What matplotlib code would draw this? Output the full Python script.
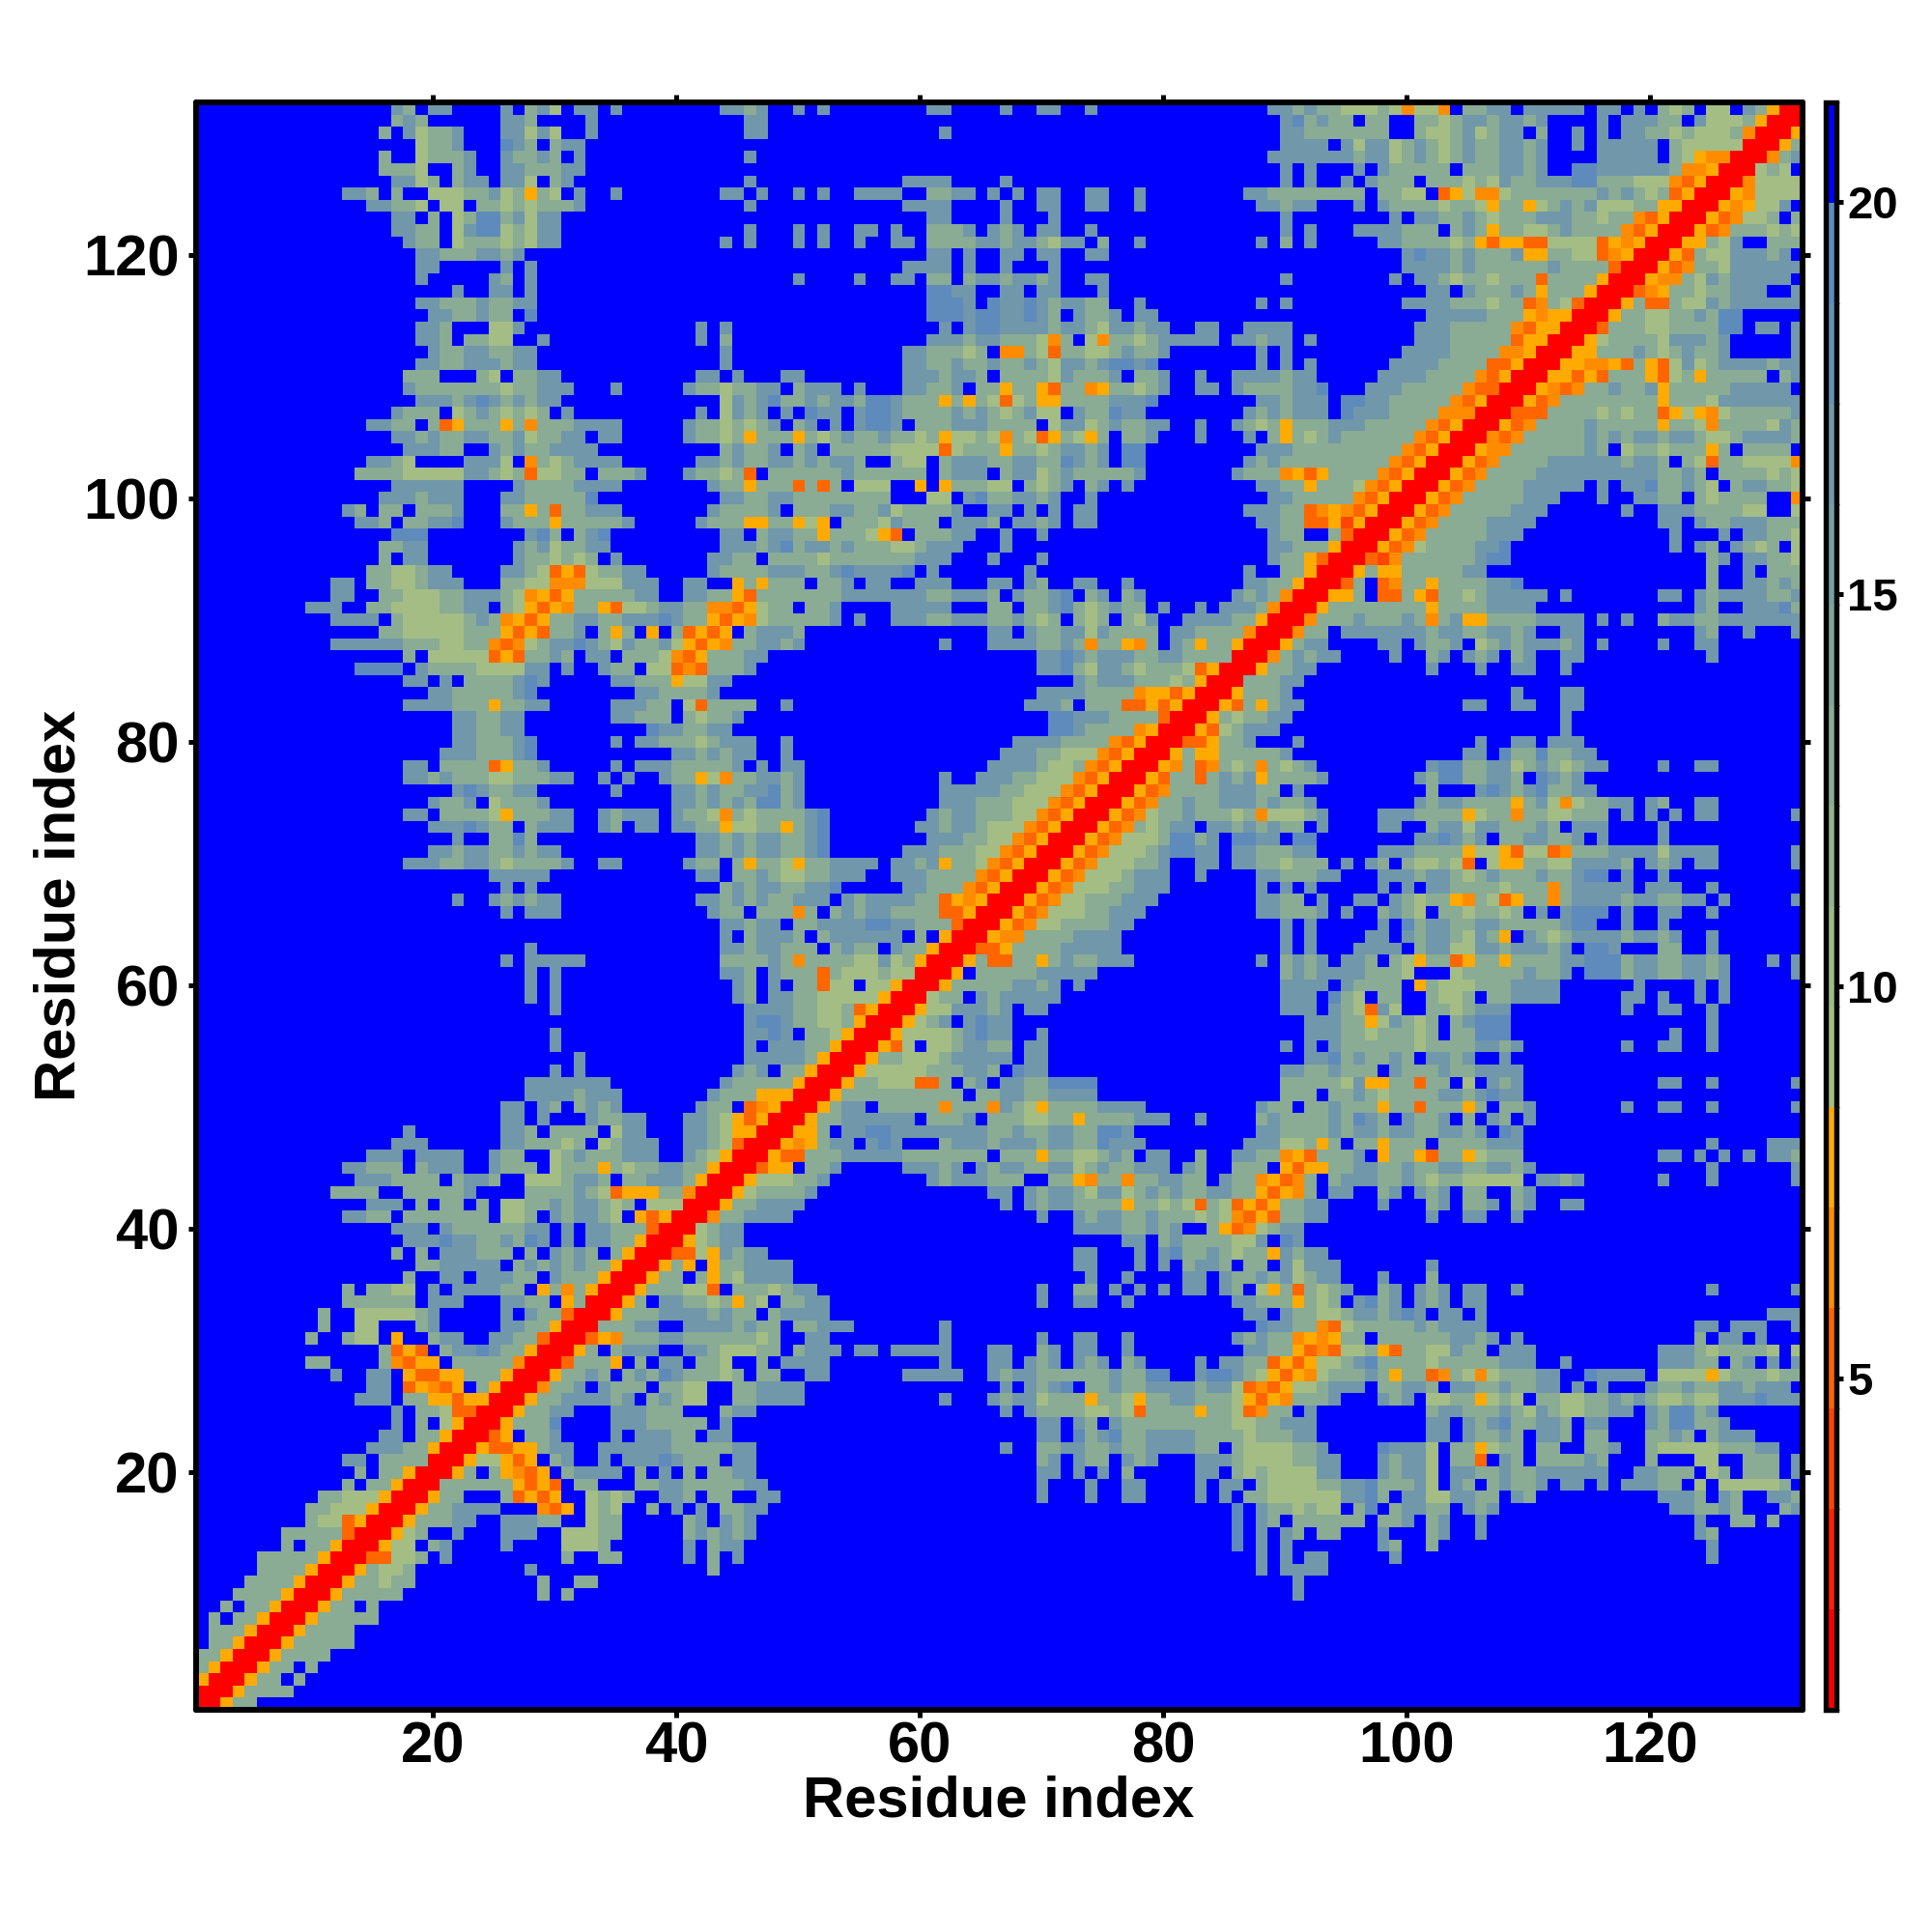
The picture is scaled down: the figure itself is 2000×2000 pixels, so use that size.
import re
import numpy as np
import matplotlib
matplotlib.use("Agg")
import matplotlib.pyplot as plt
from matplotlib.colors import ListedColormap, BoundaryNorm

plt.rcParams['font.family'] = ['Liberation Sans', 'DejaVu Sans']

# Distance bands, run-length coded: letter + repeat count.
# r,s,t,u,v = warm bands; a,c,e,g = green to steel-blue bands; . = beyond the cutoff (blue).
# Each list has one entry per row, from the highest residue index down; rows are the part at or left of the diagonal.
top_left = [
".16ec.e2.4e.cea.e2.e.8e",".16cec.6e2c.4e",".15c.eac2e.3e2aea.2e",".18ac2e.3gec.ce2",".15c.2ac3e.2ec2ec.e",
".15c3a.2ce.2e2c3e2",".16e2ac.ce2.e2a.ce",".12e2c.c.2a3c2eacvca.e.2e.8e",".14e2c2a.a2.c2acac3e",".16e2.c.acg2ceae2",
".16e2c2.aeg2acae2",".17ec2.ac3acae2.13e",".18e2c3e2ce",".18e2.5e.e",".18e.5ec.e",
".21e.2e2.e",".18e2c3ec2e2",".19e2c2ec2.g",".18e2c.3a2e.14e.e",".18e2c.c2a2.2e.12e.c",
".19ec2e2c2e2.15e",".18e2c2e3ce2.15e",".17c3.3ca.c2e2.11e2",".17ec7ac2e3.3e.5ec2a",".18e3cegecece2.13a",
".16ec3.acecacac.e.10e.a",".14e2c2.ctvc3vcuc3e4.5ec2a",".16e2cec2e2c2eac2e2.e2.5ec2a",".17e3c2.2ecec2e4.10c",".14e2ca.4e3a.ucace4.6e2c",
".13c4a5e2cacta2c2.c3e.3ec2a",".16e6.4ec4e4.7ec",".15e3ce3.3e2c5g.10e",".12ec.c2.c3e.3c2vctc2e3.7ec",".13e2c.c2e2g.3ec3vc5e.5ec2",
".16g3.8egc.ceg.9e",".15c2e2.7eceac2e2.9e",".15c.e2.7ec2acac.e.7e2",".14c2a2ce2.4e2catvtac2e2.5ec",".11e2.c2a2ce3.3c2a2u3a3e3.2e2",
".11e2.2c2a3c2e3cauvtvc5e2.2e2c2",".9e3.2c2a4c2e2.cavtvuc2vta2ce2c2u2",".11e4.ca5cecuvtvc2e2c2e3gec2vt",".15c2a5c3vtvtc2e.cvc.v.ctvtv",
]
top_mid = [
"ece.2e.e.8e2.4e.2e2.2e",".e2",".e2.14e","",".e",
"",".e.12e4.4e","e.e.2e.e.2e4.2c2e2.e.e.e2.2e2.2e.8e2",".e.12e4.4e.2e2.2e2.2e.9e",".16e2.4e.3e",
".e.3e.e.2e2.e.2c3e.ece.e2.2e",".e.3e.e.2e.2e2.c4e2ce2cae2.c.2e.9e",".16e2.e.2e2.e2.2e2",".14e4.e.2e.3e",".5e.4e.2e2.c2.ce2ce2ce.2e2",
".16g2e2.2e2.e2.3e",".16g3e.ge2gece2c2.2e.9e",".16g3eg2e2gec.ec2e.e2",".17e.eg2e4ce2cae2ce2.2e2.2e2",".16e3ce2c3auc.auc2ace5.e2c",
".14e2c3ac.u2catc2a2cec2e.7e",".14e2c2ec2ec2ecae2ceg2eg.8e","e.3e2.8e3ce2c.c4aec3e.c2e.2e.2e3","c2e2.ce3.e.3e2c2e.c2vc2vtc2uvc2ace.2e2.ec2","ecegc2ece2cg2ec3vcvcatacv2c4e3g.8e",
"ece.e.ge2.eg2ec4ececaceaa.ec2ge2.8ec","cace.ce.e.eg2e.c3e3c4.ae2acec2e2.2e.2eca","cvc3vcacec2ec2acva2caucatvcavc.c2e.3e.3e.","ec2e.ce.c5a4tac3vc2ace2ce.g2.9e","ec2e2cece2c.2ca2.ce3c2e2c2gece.g2.8ec",
"ct.c6ec6.ce3.ce2acec5e.7ec2","cvc3tctc.a3.2v.vc3a2.cace.ce.e.10e","ec2e2c8.3a2.egc2e2ce.2e","c3e.c3e2c2eac4e.2e2.e.e.e2.12e2","cv2c2vav.c3aec3.e3c.e2ce.e2.13e",
"e.ce2c2vc3avt.c3e2.2e.2e","e2cegce2cec3a2ce3.3e","c2.c4ac7e3.3e.3e","c3e3c2ege4g.e.7e.17e","vcvc3.c2e.e2.2e3.3e2.ec.2e2.2e.9e2",
"vtc7e7c2e3c.ec2eg.ce.ce.7ece","tvac2.c2e.4e5.3c2.c2egcacec2.e.2e.e3c","vuac5e.e.2e3c2e3c2ecac.cac.cae.2e4c2v",".ce3c.15e2.ec2e2aec4.e2c4ur",
]
top_right = [
"e2cec2a3caua2u.c2e2.e5.e2.e.cac.a2.ecvr2",".egcec2.c2.2c2ace2ce2ce.4e.e3c2.ea3cvr3",".e2c7.2ca2ceace2.c.2e.e.e2c2aca3cur3v",".e4.eae2acecacec2e2ce.2e.e5.ca5r3vc","e7ce2acecacec2e2ce.4e5.cavu2r3uac",
".e.e.3e.ec5.c3e2ce.2g2e6cu2vr3c3.",".e.e.2e.ec3.c3acaec2e3g2c3a3utvr3uc4","c8.c2a2.tvau2ac7ececactvr3vuc4","ece2.3e.ec4ac2avc2vacecea3c2v2r3vuvc3.",".e.8e.e2c2ecac3e3c2ac2utvr3vtuc3.e",
".e.e.3e4c3.cecvc2a2cec4utvr3vtuc6",".c.e.5e2c4acvtv2t2a4tvuvr3",".11ege2cec3ev2c2a2tuvr3",".11e4cec6ec4tr3",".e.8e.e2cac2ac3tc4vr3",
".13e2.ec3ecvc3vr3",".e.9e4c3ac2tucatr3",".13e5c3vuv2r3","e2.10e3c5utv2r3","e2.e.8e3c5tv2r3",
".e.9e4c4u2vr3",".e.e.6e4c4t2vr3","ece2.5e4c4utvr3","c2e2g.3e3c5ut2r3","ece3.g2e2c5utvr3",
"ece3.ge3c4u3r3","cvc3e3c5utvr3","cvcacec6utvr3","e2c9utvr3","ec9utvr3",
"cuvtvc4utvr3","ec2vc3autvr3","e2c5utvr3","ec2tuvutvr3","ec2t2vsvr3",
"ec2.2ctr3","e2c3vr3","ec2vtr3",".c2vr3","c2vr3",
"cur3","ur3","r3","r3",
]
mid_left = [
".11e6c3a2c2utuace2gecaec2eavtvu",".17c.a5tvtc2ec.e2.c3autvc2",".13g4.ec4a4e2.e.2ec2.a2tutc2",".17e2.e.c4ege.5e2c3va2e2",".19e2c5eg.8e2c4e.",
".17e4c3vc2e2.5e3c2.atc2",".21e2c2e2.7e2c3.cac2",".21e2c2e2.10ge2c2e2",".21e2c3eg.6e.e2c3ace",".20e3c3eg.11e2cec",
".17e2.c4tvc2e.5e.e3c5",".17e2cec3a2c3e2.2e.e.2ec2vau",".21egec2e2.6e.4e2cec",".19ec2e.ac3e.10e2cec",".17e2.c4avc3e2.2ece3.ec2au",
".19e3gec2.ce3.2ec.e2.e2c2v",".21e.2c2gc.13e2c",".19e2ce2c2ece2.11e2c",".17e3c2e2cac4e.2e2.5ec2.",".24e5.12e2.",
".25e.e.15c",".21e.2ecece2.11e2c",".25e.e3.12ec",".43e",".43e",
".27e.15e",".25e.e5.11c",".27e.e.13e",".27e.e",".27e.e",
".29e","",".29e",".29e",".31e",
".29e.e",".27e7.9e",".27e4ce3.7ec",".25e2.ec.cece.6ec2",".25e2.e.3ec2e2.3e2ca",
".17e.7e2c.c4.ae2.3e2ca",".16e3.6e2c3ac.ace3.2e2ca",".14e3.e4.2ec2.2acec3e3.2ecav",".12e2c3.ce3.2ec3.ac3vcac2e2c2vr",
]
mid_right = [
"c2e2ce.11e.3e4c2ecuc2vuc.ecvc2vr2","ce2.22e2gece3c2e2c4r3","ce.23e2gcae2cac3atvr3",".28ece3c3acvr3",".25e4c4uv2tvr3",
"c2.2e.19e3c.c3t2vtvr3","e.25g2e3c4tr3",".26g2ec4uvr3","e2.2e.18e4c4utvr3","e2.2e.17e3c2a3utvr3",
"e.e.e2.15e4ca2cutvr3","c2e2ce.11e.2e3c2a3utvr3","ce2gce.11e5c2a3utvr3","ecg2ce.11e3c3a3utvr3","cac4eg.8ece2c3a2utvr3",
"a2c2vceg.7e2ce2ca3utvr3","ece2c2eg.8e3c2a2utvr3","ece2c2eg.6e3c3a2utvr3","cvc2avc2e4.e2cevc2autvr3","c2eca2c2e3.2e3c4utvr3",
"ece2c2e2g.5e2c3utvr3","ecec2e3.ece4c2tvuvr3","c.c3uc.cece2c4t2vr3","ece2.c2e4g2e2c3tr3",".ce3c.ce6.c.vr3",
"ece2c3.cec2.ec2vr3","c3ecuc4a2eacvr3","ec.ec3tca3caar3","ec.e.c2ta2.a2vr3","ec.e2c2a5vr3",
".e4c2a2ctvr3",".eg2ec2a2cvr3",".e2ge.c2avr3",".e.e3c2vr3",".e5cvr3",
"ece.c2vr3","c5vr3","c2v3r3",".tuvr3","vtvr3",
"v2r3","tr3","r3","r3",
]
low_left = [
".13e3c4.ce2c.2a3ce2c.c2e3cvr2",".11c4.2c5e.4c4ecatv3c2ur3",".14e3.c.c2.c.a2c2ece2cac.a3r3",".12e2c2.c7.a2c.ece2ca.vtvr3",".16e3.ec6e2.e.e2c3tr3",
".17e3ge2c2ecge.e.e2c2vr3",".16c.c.e3c3.c.ecec.cvr3",".18c2e5.cececec2vr3",".17c.2e2.e3c2.ec3vr3",".12c.c2a2.e.e4c2.vcucvr3",
".12c6.e3.3e2c2.vcr3",".10c.2a5ce.5e.ec2tr3",".10c.2a2.3ce.5e2c2vr3",".9c.2ca2.v.2ce2.2e2c2tr3",".15ctvt.ce2gec2vr3",
".9c2.4cutv2.c5ur3",".11e.2e2.vt2v2c3vr3",".14e2.tvutv.cvr3",".13e3.c2v2tv2r3",".16e.c2at2r3",
".16e.c.avr3",".15e2.c2vr3",".14e3c2vr3",".12e2.c4r3",".13c.c2vr3",
".12c.c2vr3",".10c2a3vr3",".9c2a3vr3",".9ca2tvr3",".7c5tr3",
".7c.c2vr3",".5c5vr3",".5c4vr3",".4c4vr3",".3c4vr3",
".2c.c2vr3",".c.c2vr3",".c3vr3",".c2vr3","c2vr3",
"cvr3","vr3","r3","r3",
]

band_edges = [0.77 + 1.28125 * k for k in range(17)]
band_colors = ["#ff0000", "#ff2200", "#ff4500", "#ff6600", "#ff8c00", "#ffaa00",
               "#a3bd85", "#9cb98a", "#95b38e", "#8aab94", "#82a49a", "#799ea2",
               "#7097aa", "#6790b2", "#5e8abc", "#0000ff"]
letter_band = {"r": 0, "s": 2, "t": 3, "u": 4, "v": 5, "a": 6, "c": 9, "e": 12, "g": 14, ".": 15}
tick_values = [20, 40, 60, 80, 100, 120]
colorbar_ticks = [5, 10, 15, 20]
axis_label = "Residue index"
n_residues = 132


def expand(code, width=44):
    cells = []
    for letter, count in re.findall(r"([a-z.])(\d*)", code):
        cells.extend(letter * (int(count) if count else 1))
    cells = (cells + ["."] * width)[:width]
    return cells


rows = []
for a, b, c in zip(top_left, top_mid, top_right):
    rows.append(expand(a) + expand(b) + expand(c))
for a, b in zip(mid_left, mid_right):
    rows.append(expand(a) + expand(b) + ["."] * 44)
for a in low_left:
    rows.append(expand(a) + ["."] * 88)

Z = np.full((n_residues, n_residues), 21.0)
for r, row in enumerate(rows):
    y = n_residues - 1 - r
    for x in range(y + 1):
        k = letter_band[row[x]]
        v = 0.5 * (band_edges[k] + band_edges[k + 1])
        Z[y, x] = v
        Z[x, y] = v

cmap = ListedColormap(band_colors)
norm = BoundaryNorm(band_edges, cmap.N)

fig = plt.figure(figsize=(20, 20), dpi=100)
L, R, T, B = 202.5, 1866, 106, 1770
ax = fig.add_axes([L / 2000, 1 - B / 2000, (R - L) / 2000, (B - T) / 2000])
im = ax.imshow(Z, origin="lower", cmap=cmap, norm=norm, interpolation="nearest",
               extent=(0.5, 132.5, 0.5, 132.5), aspect="auto")
ax.set_xticks(tick_values)
ax.set_yticks(tick_values)
ax.tick_params(axis="both", which="major", length=6, width=3.6, direction="out",
               top=True, right=True, labelsize=43)
ax.tick_params(axis="x", pad=2)
ax.tick_params(axis="y", pad=6)
for lab in ax.get_xticklabels() + ax.get_yticklabels():
    lab.set_fontweight("bold")
for s in ax.spines.values():
    s.set_linewidth(4.3)
    s.set_capstyle("round")

fig.text(1034 / 2000, 1 - 1865 / 2000, axis_label, ha="center", va="center", fontsize=43, fontweight="bold")
fig.text(62 / 2000, 1 - 937 / 2000, axis_label, ha="center", va="center", rotation=90, fontsize=43, fontweight="bold")

cax = fig.add_axes([1890 / 2000, 1 - B / 2000, 11 / 2000, (B - T) / 2000])
cb = fig.colorbar(im, cax=cax, ticks=colorbar_ticks, spacing="proportional", drawedges=False)
cb.outline.set_linewidth(3.9)
cb.ax.tick_params(length=5, width=3.6, labelsize=34, pad=3)
for lab in cb.ax.get_yticklabels():
    lab.set_fontweight("bold")

fig.savefig("out.png", dpi=100, facecolor="white")
